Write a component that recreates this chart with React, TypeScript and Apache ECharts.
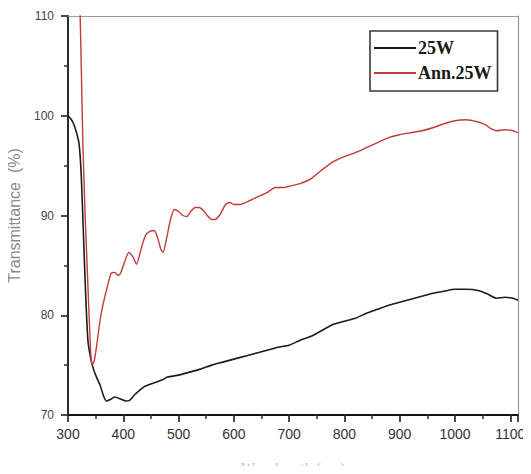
import React, { useEffect, useRef } from "react";
import * as echarts from "echarts";

const seriesNames = ["25W", "Ann.25W"];

const wl25W = [300, 305, 310, 315, 320, 324, 328, 332, 336, 340, 345, 350, 358, 365, 370, 378, 385, 395, 405, 412, 420, 430, 440, 455, 470, 480, 500, 520, 540, 560, 580, 600, 620, 640, 660, 680, 700, 720, 740, 760, 780, 800, 820, 840, 860, 880, 900, 920, 940, 960, 980, 1000, 1020, 1040, 1060, 1075, 1090, 1105, 1114];
const t25W = [100, 99.7, 99.2, 98.4, 97.2, 94, 88, 82, 77.5, 76, 74.8, 74, 73, 71.8, 71.4, 71.6, 71.8, 71.6, 71.4, 71.5, 72, 72.5, 72.9, 73.2, 73.5, 73.8, 74.0, 74.3, 74.6, 75.0, 75.3, 75.6, 75.9, 76.2, 76.5, 76.8, 77.0, 77.5, 77.9, 78.5, 79.1, 79.4, 79.7, 80.2, 80.6, 81.0, 81.3, 81.6, 81.9, 82.2, 82.4, 82.6, 82.6, 82.5, 82.1, 81.7, 81.8, 81.7, 81.5];

const wlAnn = [320, 324, 327, 331, 336, 340, 343, 347, 352, 358, 363, 370, 378, 385, 390, 395, 402, 410, 418, 424, 432, 440, 448, 456, 462, 468, 472, 478, 485, 492, 500, 508, 515, 522, 530, 537, 545, 552, 560, 566, 575, 585, 593, 600, 611, 625, 640, 660, 675, 690, 705, 720, 740, 760, 780, 800, 820, 840, 860, 880, 900, 920, 940, 960, 980, 1000, 1020, 1040, 1055, 1065, 1075, 1090, 1105, 1114];
const tAnn = [115, 105, 97, 90, 83, 77.5, 75.0, 75.3, 77, 79.5, 81, 82.6, 84.2, 84.3, 84.0, 84.2, 85.3, 86.3, 85.8, 85.1, 86.6, 88.0, 88.4, 88.5, 87.8, 86.6, 86.3, 87.6, 89.5, 90.6, 90.4, 90.0, 89.9, 90.4, 90.8, 90.8, 90.5, 90.0, 89.6, 89.6, 90.1, 91.1, 91.3, 91.1, 91.1, 91.4, 91.8, 92.3, 92.8, 92.8, 93.0, 93.2, 93.7, 94.6, 95.4, 95.9, 96.3, 96.8, 97.3, 97.8, 98.1, 98.3, 98.5, 98.8, 99.2, 99.5, 99.6, 99.4, 99.1, 98.7, 98.5, 98.6, 98.5, 98.3];

const xMin = 300;
const xMax = 1114;
const yMin = 70;
const yMax = 110;

export default function App() {
  const ref = useRef<HTMLDivElement>(null);
  useEffect(() => {
    if (!ref.current) return;
    const chart = echarts.init(ref.current, null, { renderer: "svg" });
    const pair = (xs: number[], ys: number[]) => xs.map((x, i) => [x, ys[i]]);
    chart.setOption({
      animation: false,
      backgroundColor: "#ffffff",
      grid: {
        left: 68,
        top: 16,
        right: 13,
        bottom: 59,
        outerBoundsMode: "none",
      },
      legend: {
        left: 370,
        top: 31,
        orient: "vertical",
        borderColor: "#3a3a3a",
        borderWidth: 1.6,
        padding: [8, 6, 9, 4],
        itemGap: 7,
        itemWidth: 42,
        itemHeight: 2,
        icon: "rect",
        textStyle: {
          fontFamily: "Liberation Serif",
          fontSize: 18,
          fontWeight: "bold",
          color: "#1a1a1a",
          padding: [0, 0, 0, -3],
        },
        data: seriesNames,
      },
      xAxis: [
        {
          type: "value",
          position: "bottom",
          min: xMin,
          max: xMax,
          interval: 100,
          name: "Wavelength (nm)",
          nameLocation: "middle",
          nameGap: 45,
          nameTextStyle: {
            fontFamily: "Liberation Serif",
            fontSize: 15,
            color: "#c4c4c4",
          },
          axisLine: { show: true, onZero: false, lineStyle: { color: "#141414", width: 1.8 } },
          axisTick: { show: true, length: 7, lineStyle: { color: "#2b2b2b", width: 1.7 } },
          minorTick: { show: true, splitNumber: 2, length: 4, lineStyle: { color: "#303030", width: 1.5 } },
          axisLabel: {
            show: true,
            margin: 12,
            fontFamily: "Liberation Sans",
            fontSize: 14,
            color: "#333",
            showMaxLabel: false,
            formatter: (v: number) => String(v),
          },
          splitLine: { show: false },
        },
        {
          type: "value",
          position: "top",
          min: xMin,
          max: xMax,
          interval: 100,
          axisLine: { show: true, onZero: false, lineStyle: { color: "#9a9a9a", width: 1.2 } },
          axisTick: { show: false },
          minorTick: { show: false },
          axisLabel: { show: false },
          splitLine: { show: false },
        },
      ],
      yAxis: [
        {
          type: "value",
          position: "left",
          min: yMin,
          max: yMax,
          interval: 10,
          name: "Transmittance  (%)",
          nameLocation: "middle",
          nameGap: 46,
          nameTextStyle: {
            fontFamily: "Liberation Sans",
            fontSize: 16,
            color: "#8a8a8a",
          },
          axisLine: { show: true, onZero: false, lineStyle: { color: "#141414", width: 1.8 } },
          axisTick: { show: true, length: 7, lineStyle: { color: "#2b2b2b", width: 1.7 } },
          minorTick: { show: true, splitNumber: 2, length: 4, lineStyle: { color: "#303030", width: 1.5 } },
          axisLabel: {
            show: true,
            margin: 14,
            fontFamily: "Liberation Sans",
            fontSize: 12,
            color: "#444",
          },
          splitLine: { show: false },
        },
        {
          type: "value",
          position: "right",
          min: yMin,
          max: yMax,
          interval: 10,
          axisLine: { show: true, onZero: false, lineStyle: { color: "#9a9a9a", width: 1.2 } },
          axisTick: { show: false },
          minorTick: { show: false },
          axisLabel: { show: false },
          splitLine: { show: false },
        },
      ],
      series: [
        {
          name: seriesNames[0],
          type: "line",
          data: pair(wl25W, t25W),
          symbol: "none",
          smooth: 0.2,
          clip: true,
          lineStyle: { color: "#1c1c1c", width: 1.6 },
          itemStyle: { color: "#1c1c1c" },
        },
        {
          name: seriesNames[1],
          type: "line",
          data: pair(wlAnn, tAnn),
          symbol: "none",
          smooth: 0.2,
          clip: true,
          lineStyle: { color: "#c23a3a", width: 1.4 },
          itemStyle: { color: "#c23a3a" },
        },
      ],
    });
    return () => chart.dispose();
  }, []);
  return <div ref={ref} style={{ width: 531, height: 474, margin: -8 }} />;
}
